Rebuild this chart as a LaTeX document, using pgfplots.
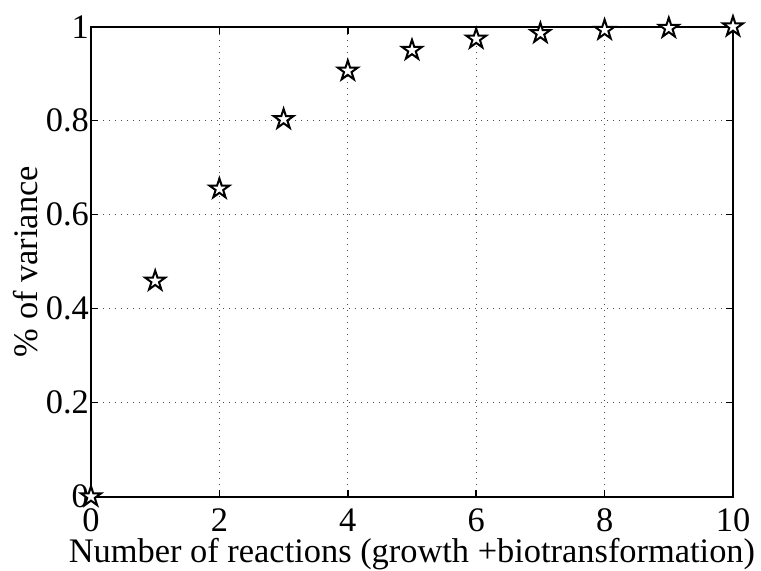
\documentclass[border=0pt]{standalone}
\usepackage{pgfplots}
\pgfplotsset{compat=1.18}
\usepackage{fontspec}
\setmainfont{Liberation Serif}
\pgfdeclareplotmark{pentagram}{%
  \pgfpathmoveto{\pgfpointpolar{90}{\pgfplotmarksize}}%
  \pgfpathlineto{\pgfpointpolar{126}{0.382\pgfplotmarksize}}%
  \pgfpathlineto{\pgfpointpolar{162}{\pgfplotmarksize}}%
  \pgfpathlineto{\pgfpointpolar{198}{0.382\pgfplotmarksize}}%
  \pgfpathlineto{\pgfpointpolar{234}{\pgfplotmarksize}}%
  \pgfpathlineto{\pgfpointpolar{270}{0.382\pgfplotmarksize}}%
  \pgfpathlineto{\pgfpointpolar{306}{\pgfplotmarksize}}%
  \pgfpathlineto{\pgfpointpolar{342}{0.382\pgfplotmarksize}}%
  \pgfpathlineto{\pgfpointpolar{18}{\pgfplotmarksize}}%
  \pgfpathlineto{\pgfpointpolar{54}{0.382\pgfplotmarksize}}%
  \pgfpathclose
  \pgfusepathqfillstroke
}
\begin{document}
\begin{tikzpicture}
\useasboundingbox (-45.5pt,-37.15pt) rectangle (335pt,248.35pt);
\begin{axis}[
  scale only axis,
  width=321pt, height=235pt,
  xmin=0, xmax=10, ymin=0, ymax=1,
  xtick={0,2,4,6,8,10},
  ytick={0,0.2,0.4,0.6,0.8,1},
  yticklabels={0,0.2,0.4,0.6,0.8,1},
  tick align=inside,
  major tick length=3.5pt,
  axis line style={line width=1pt},
  every tick/.style={black, line width=0.8pt},
  grid=major,
  major grid style={black!70, line width=0.5pt, dash pattern=on 0.5pt off 2.5pt},
  /pgf/number format/assume math mode=true,
  tick label style={font=\fontsize{17.2}{19}\selectfont},
  xticklabel style={anchor=base, yshift=-17.5pt},
  yticklabel style={xshift=2.5pt},
  label style={font=\fontsize{17.2}{19}\selectfont},
  xlabel={Number of reactions (growth +biotransformation)},
  ylabel={\% of variance},
  xlabel style={at={(axis description cs:0.5,0)}, anchor=base, yshift=-33pt},
  ylabel style={at={(axis description cs:0,0.5)}, anchor=base, yshift=27pt},
  clip=false,
]
\addplot[only marks, mark=pentagram, mark size=5.2pt,
  mark options={draw=black, fill=white, line width=1pt}]
  coordinates {
  (0,0) (1,0.459) (2,0.655) (3,0.803) (4,0.906) (5,0.950)
  (6,0.974) (7,0.986) (8,0.993) (9,0.997) (10,1.0)
  };
\end{axis}
\end{tikzpicture}
\end{document}
